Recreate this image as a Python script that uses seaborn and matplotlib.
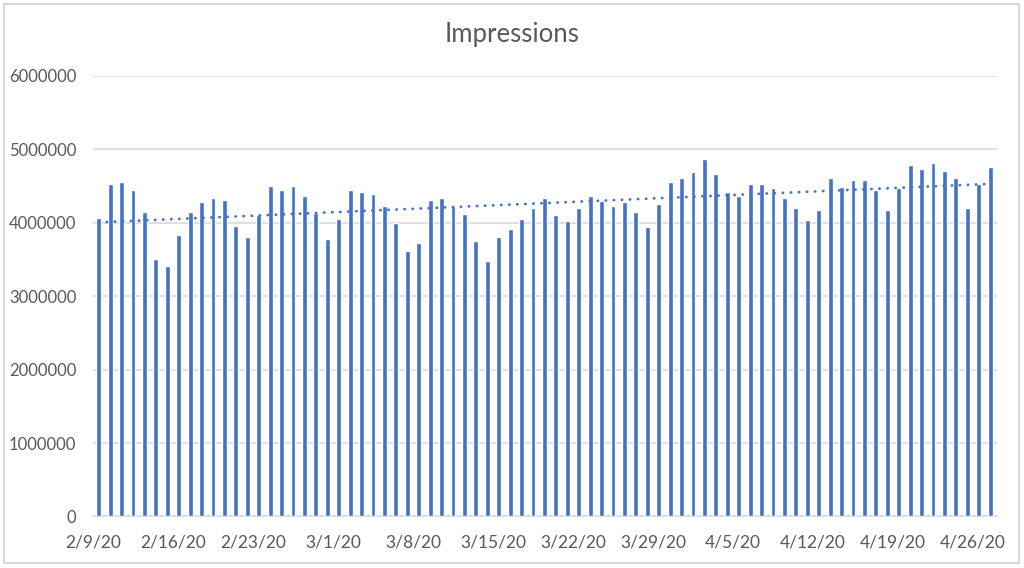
import numpy as np
import pandas as pd
import matplotlib
matplotlib.use("Agg")
import matplotlib.pyplot as plt
from matplotlib.patches import Rectangle
import seaborn as sns

# daily impressions, 2/9/20 .. 4/27/20
start_date = "2020-02-09"
impressions = [
    4065000, 4520000, 4547000, 4438000, 4147000, 3508000, 3404000, 3826000,
    4147000, 4279000, 4333000, 4306000, 3957000, 3799000, 4102000, 4492000,
    4438000, 4492000, 4361000, 4134000, 3776000, 4043000, 4438000, 4415000,
    4388000, 4224000, 3989000, 3612000, 3717000, 4306000, 4333000, 4224000,
    4120000, 3748000, 3480000, 3799000, 3907000, 4043000, 4201000, 4333000,
    4098000, 4016000, 4201000, 4361000, 4288000, 4224000, 4283000, 4147000,
    3935000, 4252000, 4547000, 4601000, 4683000, 4864000, 4656000, 4415000,
    4361000, 4520000, 4520000, 4465000, 4329000, 4197000, 4038000, 4170000,
    4601000, 4487000, 4574000, 4574000, 4442000, 4170000, 4465000, 4787000,
    4732000, 4814000, 4705000, 4601000, 4197000, 4520000, 4759000,
]
y_ticks = [0, 1000000, 2000000, 3000000, 4000000, 5000000, 6000000]

dates = pd.date_range(start_date, periods=len(impressions), freq="D")
df = pd.DataFrame({
    "day": [f"{d.month}/{d.day}/{d.strftime('%y')}" for d in dates],
    "pos": np.arange(len(impressions)),
    "impressions": impressions,
})

sns.set_style("white")
plt.rcParams["font.family"] = ["Lato", "DejaVu Sans"]

blue = "#4472C4"
grey_txt = "#595959"
grid_col = "#D9D9D9"

fig = plt.figure(figsize=(10.24, 5.68), dpi=100)
ax = fig.add_axes([0.0908, 0.0907, 0.8828, 0.776])

sns.barplot(data=df, x="day", y="impressions", color=blue, width=0.42,
            saturation=1, ax=ax, zorder=3)

# linear trendline, dotted
sns.regplot(data=df, x="pos", y="impressions", scatter=False, ci=None,
            truncate=True, ax=ax,
            line_kws=dict(color=blue, lw=2.0, linestyle=(0, (0.1, 2.8)),
                          dash_capstyle="round", zorder=4))

ax.set_ylim(0, 6000000)
ax.set_yticks(y_ticks)
ax.set_yticklabels([str(v) for v in y_ticks])
ax.set_xlim(-0.5, 78.6)
tick_pos = np.arange(0, len(impressions), 7)
ax.set_xticks(tick_pos - 0.5)
ax.set_xticklabels(df["day"].iloc[tick_pos])

ax.yaxis.grid(True, color=grid_col, lw=1.2, zorder=0)
ax.set_axisbelow(True)
for s in ["top", "right", "left"]:
    ax.spines[s].set_visible(False)
ax.spines["bottom"].set_color(grid_col)
ax.spines["bottom"].set_linewidth(1.2)
ax.tick_params(axis="x", colors=grey_txt, length=5, width=1.2, color=grid_col,
               labelsize=12.5, pad=8)
ax.tick_params(axis="y", colors=grey_txt, length=0, labelsize=12, pad=12)
for t in ax.get_xticklabels():
    t.set_color(grey_txt)
ax.set_xlabel("")
ax.set_ylabel("")

fig.text(0.5, 0.94, "Impressions", ha="center", va="center",
         fontsize=18.5, color=grey_txt)

fig.add_artist(Rectangle((0.004, 0.009), 0.991, 0.984, transform=fig.transFigure,
                         fill=False, edgecolor="#D0D0D0", lw=1.2))

fig.savefig("out.png", dpi=100)
